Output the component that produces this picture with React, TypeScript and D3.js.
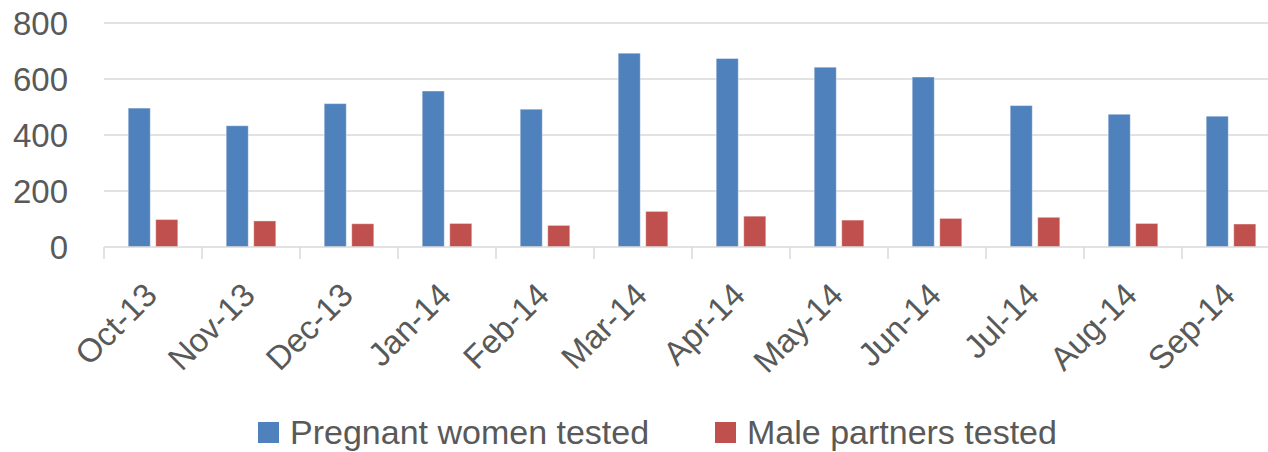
import React, { useEffect, useRef } from 'react';
import * as d3 from 'd3';

const MONTHS = ['Oct-13', 'Nov-13', 'Dec-13', 'Jan-14', 'Feb-14', 'Mar-14', 'Apr-14', 'May-14', 'Jun-14', 'Jul-14', 'Aug-14', 'Sep-14'];
const PREGNANT = [496, 433, 512, 557, 492, 692, 673, 642, 607, 505, 474, 467];
const MALE = [98, 93, 83, 84, 77, 127, 110, 96, 102, 106, 84, 82];
const SERIES_NAMES = ['Pregnant women tested', 'Male partners tested'];
const Y_TICKS = [0, 200, 400, 600, 800];

const WIDTH = 1268;
const HEIGHT = 452;
const PLOT = { left: 104, right: 1280, top: 23, bottom: 247 };
const COLORS = ['#4f81bd', '#c0504d'];
const FONT = '"Liberation Sans", Arial, sans-serif';
const TEXT_COLOR = '#595959';

const App = () => {
    const ref = useRef<SVGSVGElement>(null);

    useEffect(() => {
        const svg = d3.select(ref.current);
        svg.selectAll('*').remove();

        const x = d3.scaleBand()
            .domain(MONTHS)
            .range([PLOT.left, PLOT.right]);

        // two bars per month, ~22px wide with a small gap
        const inner = d3.scaleBand()
            .domain(['0', '1'])
            .range([0, x.bandwidth()])
            .paddingInner(0.2)
            .paddingOuter(0.88);

        const y = d3.scaleLinear()
            .domain([0, 800])
            .range([PLOT.bottom, PLOT.top]);

        // gridlines
        svg.append('g')
            .selectAll('line')
            .data(Y_TICKS.filter(d => d > 0))
            .enter().append('line')
            .attr('x1', PLOT.left)
            .attr('x2', PLOT.right)
            .attr('y1', d => y(d))
            .attr('y2', d => y(d))
            .attr('stroke', '#d9d9d9')
            .attr('stroke-width', 1.5);

        // y labels
        svg.append('g')
            .selectAll('text')
            .data(Y_TICKS)
            .enter().append('text')
            .attr('x', 68)
            .attr('y', d => y(d))
            .attr('dy', '0.36em')
            .attr('text-anchor', 'end')
            .style('font-family', FONT)
            .style('font-size', '33px')
            .attr('fill', TEXT_COLOR)
            .text(d => d);

        // bars
        const groups = svg.append('g')
            .selectAll('g')
            .data(MONTHS)
            .enter().append('g')
            .attr('transform', d => 'translate(' + x(d) + ',0)');

        [PREGNANT, MALE].forEach((values, si) => {
            groups.append('rect')
                .attr('x', inner(String(si))!)
                .attr('width', inner.bandwidth())
                .attr('y', (_d, i) => y(values[i]))
                .attr('height', (_d, i) => y(0) - y(values[i]))
                .attr('fill', COLORS[si])
                .attr('stroke', 'rgba(255,255,255,0.35)')
                .attr('stroke-width', 1);
        });

        // x axis line and ticks
        const axis = svg.append('g');
        axis.append('line')
            .attr('x1', PLOT.left)
            .attr('x2', PLOT.right)
            .attr('y1', y(0))
            .attr('y2', y(0))
            .attr('stroke', '#d9d9d9')
            .attr('stroke-width', 1.5);
        axis.selectAll('line.tick')
            .data(MONTHS)
            .enter().append('line')
            .attr('class', 'tick')
            .attr('x1', d => x(d)!)
            .attr('x2', d => x(d)!)
            .attr('y1', y(0))
            .attr('y2', y(0) + 12)
            .attr('stroke', '#d9d9d9')
            .attr('stroke-width', 1.5);

        // x labels, rotated
        axis.selectAll('text')
            .data(MONTHS)
            .enter().append('text')
            .attr('transform', d => 'translate(' + (x(d)! + x.bandwidth() / 2 + 6) + ',' + 297 + ') rotate(-45)')
            .attr('text-anchor', 'end')
            .style('font-family', FONT)
            .style('font-size', '33px')
            .attr('fill', TEXT_COLOR)
            .text(d => d);

        // legend
        const legendX = [258, 715];
        const legend = svg.append('g');
        SERIES_NAMES.forEach((name, i) => {
            legend.append('rect')
                .attr('x', legendX[i])
                .attr('y', 422)
                .attr('width', 21)
                .attr('height', 21)
                .attr('fill', COLORS[i]);
            legend.append('text')
                .attr('x', legendX[i] + 32)
                .attr('y', 444)
                .style('font-family', FONT)
                .style('font-size', '34px')
                .attr('fill', TEXT_COLOR)
                .text(name);
        });
    }, []);

    return (
        <div style={{ position: 'absolute', left: 0, top: 0 }}>
            <svg ref={ref} width={WIDTH} height={HEIGHT} style={{ display: 'block', background: '#fff' }}></svg>
        </div>
    );
};

export default App;
